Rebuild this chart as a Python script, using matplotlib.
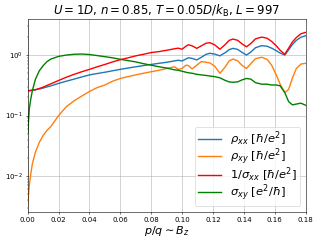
import numpy as np
import matplotlib.pyplot as plt

# --- データ ---
pq = [0, 0.001, 0.002, 0.003, 0.005, 0.0075, 0.01, 0.0125, 0.015, 0.02,
      0.025, 0.03, 0.035, 0.04, 0.045, 0.05, 0.055, 0.06, 0.065, 0.07,
      0.075, 0.08, 0.085, 0.09, 0.095, 0.0975, 0.1, 0.1025, 0.104, 0.1065,
      0.1095, 0.1125, 0.1155, 0.118, 0.121, 0.1245, 0.128, 0.1305, 0.133, 0.136,
      0.139, 0.1417, 0.1445, 0.1475, 0.1515, 0.155, 0.158, 0.161, 0.1635, 0.1665,
      0.169, 0.1715, 0.174, 0.177, 0.18]

rho_xx = [0.257, 0.258, 0.26, 0.262, 0.266, 0.275, 0.285, 0.298, 0.31, 0.34,
          0.37, 0.40, 0.435, 0.47, 0.495, 0.52, 0.55, 0.58, 0.61, 0.64,
          0.67, 0.70, 0.73, 0.76, 0.80, 0.82, 0.80, 0.86, 0.90, 0.88,
          0.83, 0.92, 1.03, 1.07, 1.04, 0.97, 1.10, 1.23, 1.29, 1.24,
          1.10, 1.00, 1.12, 1.32, 1.43, 1.40, 1.30, 1.18, 1.08, 1.00,
          1.22, 1.50, 1.75, 1.97, 2.09]

rho_xy = [0.0035, 0.007, 0.011, 0.016, 0.025, 0.036, 0.047, 0.057, 0.066, 0.10,
          0.14, 0.175, 0.21, 0.25, 0.29, 0.32, 0.37, 0.41, 0.44, 0.47,
          0.50, 0.53, 0.56, 0.60, 0.64, 0.58, 0.60, 0.68, 0.67, 0.59,
          0.68, 0.78, 0.76, 0.74, 0.66, 0.50, 0.64, 0.80, 0.86, 0.80,
          0.67, 0.60, 0.72, 0.87, 0.92, 0.85, 0.68, 0.47, 0.33, 0.24,
          0.27, 0.42, 0.60, 0.71, 0.73]

inv_sxx = [0.257, 0.258, 0.26, 0.263, 0.268, 0.28, 0.295, 0.315, 0.335, 0.38,
           0.43, 0.48, 0.53, 0.58, 0.64, 0.70, 0.77, 0.84, 0.90, 0.97,
           1.03, 1.10, 1.14, 1.20, 1.27, 1.30, 1.25, 1.40, 1.48, 1.42,
           1.29, 1.42, 1.57, 1.60, 1.48, 1.25, 1.50, 1.75, 1.84, 1.75,
           1.52, 1.37, 1.55, 1.85, 1.98, 1.90, 1.68, 1.42, 1.20, 1.03,
           1.30, 1.65, 1.95, 2.25, 2.37]

sigma_xy = [0.051, 0.13, 0.19, 0.26, 0.40, 0.55, 0.67, 0.78, 0.86, 0.95,
            1.0, 1.03, 1.04, 1.02, 0.98, 0.94, 0.90, 0.85, 0.81, 0.77,
            0.72, 0.68, 0.64, 0.61, 0.57, 0.56, 0.54, 0.52, 0.51, 0.50,
            0.48, 0.47, 0.46, 0.45, 0.44, 0.42, 0.38, 0.36, 0.355, 0.36,
            0.39, 0.41, 0.40, 0.35, 0.33, 0.33, 0.32, 0.32, 0.31, 0.24,
            0.17, 0.15, 0.155, 0.16, 0.148]

# --- 描画 ---
fig = plt.figure(figsize=(6.38, 4.88), dpi=50)
ax = fig.add_subplot(111)
fig.subplots_adjust(left=0.087, right=0.958, bottom=0.131, top=0.922)

ax.plot(pq, rho_xx, color='C0', lw=2, label=r'$\rho_{xx}\ [\hbar/e^2]$')
ax.plot(pq, rho_xy, color='C1', lw=2, label=r'$\rho_{xy}\ [\hbar/e^2]$')
ax.plot(pq, inv_sxx, color='r', lw=2, label=r'$1/\sigma_{xx}\ [\hbar/e^2]$')
ax.plot(pq, sigma_xy, color='g', lw=2, label=r'$\sigma_{xy}\ [e^2/\hbar]$')

ax.set_yscale('log')
ax.set_xlim(0, 0.18)
ax.set_ylim(0.00254, 3.94)
ax.set_xticks(np.arange(0, 0.181, 0.02))
ax.tick_params(labelsize=10)
ax.grid(True)
ax.set_xlabel(r'$p/q \sim B_z$', fontsize=16, labelpad=2)
ax.set_title(r'$U = 1D$, $n = 0.85$, $T = 0.05D/k_\mathrm{B}$, $L = 997$', fontsize=17)
ax.legend(loc='lower right', fontsize=16.5, labelspacing=-0.15, borderpad=0.25)

fig.savefig('out.png', dpi=50)
